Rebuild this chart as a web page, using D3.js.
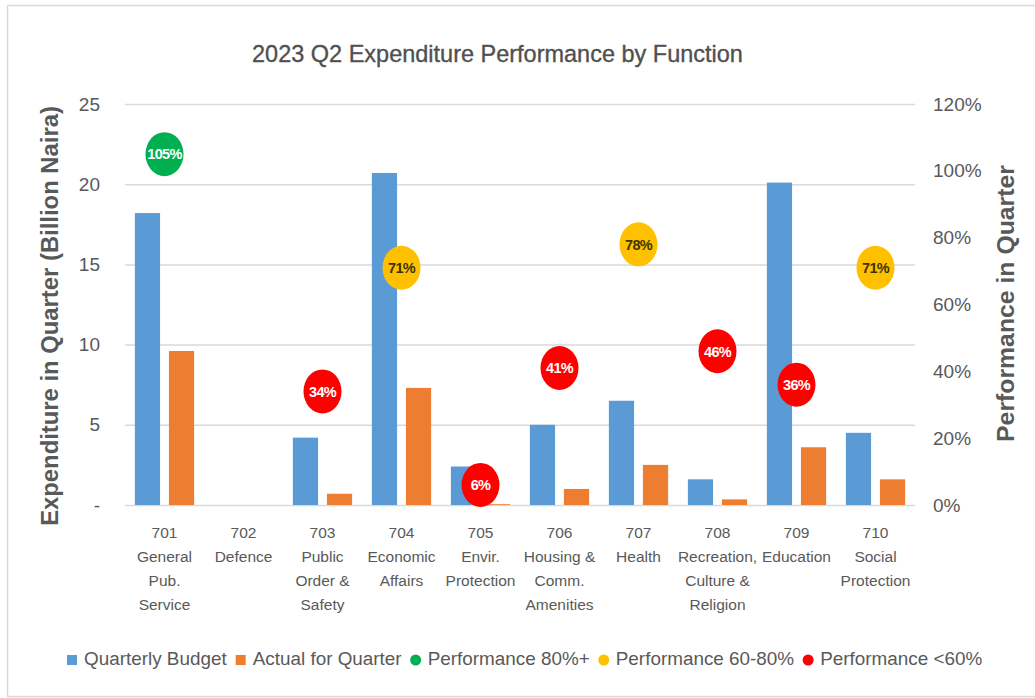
<!DOCTYPE html>
<html><head><meta charset="utf-8">
<script src="https://cdn.jsdelivr.net/npm/d3@7"></script>
<style>body{margin:0;background:#fff;} svg{display:block;font-family:"Liberation Sans",Arial,sans-serif;}</style>
</head><body><svg id="chart" width="1035" height="698"></svg>
<script>
// ---- data ----
const categoryLines = [
  ["701","General","Pub.","Service"],
  ["702","Defence"],
  ["703","Public","Order &","Safety"],
  ["704","Economic","Affairs"],
  ["705","Envir.","Protection"],
  ["706","Housing &","Comm.","Amenities"],
  ["707","Health"],
  ["708","Recreation,","Culture &","Religion"],
  ["709","Education"],
  ["710","Social","Protection"]
];
const categories = categoryLines.map(d => d[0]);
const budget = [18.2, 0, 4.2, 20.7, 2.4, 5.0, 6.5, 1.6, 20.1, 4.5];
const actual = [9.6, 0, 0.7, 7.3, 0.05, 1.0, 2.5, 0.35, 3.6, 1.6];
const performance = [1.05, null, 0.34, 0.71, 0.06, 0.41, 0.78, 0.46, 0.36, 0.71];
const leftTicks = [0, 5, 10, 15, 20, 25];
const rightTicks = [0, 0.2, 0.4, 0.6, 0.8, 1.0, 1.2];
const seriesNames = ["Quarterly Budget", "Actual for Quarter"];
const seriesColors = ["#5B9BD5", "#ED7D31"];
const perfLabels = ["Performance 80%+", "Performance 60-80%", "Performance <60%"];
const perfThresholds = [0.8, 0.6, -Infinity];
const perfColors = ["#00B050", "#FFC000", "#FF0000"];
const perfTextColors = ["#ffffff", "#3d3500", "#ffffff"];
const titleText = "2023 Q2 Expenditure Performance by Function";
const leftTitle = "Expenditure in Quarter (Billion Naira)";
const rightTitle = "Performance in Quarter";

// ---- layout ----
const svg = d3.select("#chart");
const L = 125, R = 915, T = 104, B = 505;
const textGray = "#595959";

function fit(sel, target) {
  const fs = parseFloat(sel.attr("font-size"));
  const w = sel.node().getComputedTextLength();
  sel.attr("font-size", fs * target / w);
  return sel;
}

svg.append("rect").attr("x", 7.5).attr("y", 5.5).attr("width", 1040).attr("height", 691)
  .attr("fill", "#fff").attr("stroke", "#d9d9d9").attr("stroke-width", 1.5);

const x0 = d3.scaleBand().domain(categories).range([L, R]).paddingInner(0.25).paddingOuter(0.125);
const x1 = d3.scaleBand().domain([0, 1]).range([0, x0.bandwidth()]).paddingInner(0.26);
const yL = d3.scaleLinear().domain([0, 25]).range([B, T]);
const yR = d3.scaleLinear().domain([0, 1.2]).range([B, T]);

// gridlines
svg.append("g").selectAll("line").data(leftTicks).join("line")
  .attr("x1", L).attr("x2", R)
  .attr("y1", d => yL(d) + 0.5).attr("y2", d => yL(d) + 0.5)
  .attr("stroke", "#d9d9d9").attr("stroke-width", 1.5);

// bars
const barData = [];
categories.forEach((c, i) => {
  barData.push({c, s: 0, v: budget[i]});
  barData.push({c, s: 1, v: actual[i]});
});
svg.append("g").selectAll("rect").data(barData).join("rect")
  .attr("x", d => x0(d.c) + x1(d.s))
  .attr("width", x1.bandwidth())
  .attr("y", d => yL(d.v))
  .attr("height", d => yL(0) - yL(d.v))
  .attr("fill", d => seriesColors[d.s]);

// performance markers
function perfIdx(p) { return perfThresholds.findIndex(t => p >= t); }
const perfData = categories.map((c, i) => ({c, p: performance[i]})).filter(d => d.p != null);
const pg = svg.append("g").selectAll("g").data(perfData).join("g")
  .attr("transform", d => `translate(${x0(d.c) + x0.bandwidth() / 2},${yR(d.p)})`);
pg.append("ellipse").attr("rx", 19).attr("ry", 22)
  .attr("fill", d => perfColors[perfIdx(d.p)]);
pg.append("text").attr("text-anchor", "middle").attr("dy", "0.36em")
  .attr("font-size", 14.5).attr("font-weight", "bold").attr("letter-spacing", -0.7)
  .attr("fill", d => perfTextColors[perfIdx(d.p)])
  .text(d => d3.format(".0%")(d.p));

// left axis
const gl = svg.append("g").attr("transform", `translate(${L},0)`)
  .call(d3.axisLeft(yL).tickValues(leftTicks).tickFormat(d => d === 0 ? "-" : d).tickSize(0).tickPadding(25));
gl.select(".domain").remove();
gl.selectAll("text").attr("font-size", 19).attr("fill", textGray).attr("font-family", "Liberation Sans, Arial, sans-serif");

// right axis
const gr = svg.append("g").attr("transform", `translate(${R},0)`)
  .call(d3.axisRight(yR).tickValues(rightTicks).tickFormat(d3.format(".0%")).tickSize(0).tickPadding(18));
gr.select(".domain").remove();
gr.selectAll("text").attr("font-size", 19).attr("fill", textGray).attr("font-family", "Liberation Sans, Arial, sans-serif");

// bottom axis (multi-line category labels)
const gb = svg.append("g").attr("transform", `translate(0,${B})`)
  .call(d3.axisBottom(x0).tickSize(0).tickFormat(() => ""));
gb.select(".domain").remove();
gb.selectAll(".tick text").each(function(d, i) {
  const t = d3.select(this).attr("y", 33).attr("dy", null)
    .attr("font-size", 15.5).attr("fill", textGray).attr("font-family", "Liberation Sans, Arial, sans-serif");
  categoryLines[i].forEach((line, k) => {
    t.append("tspan").attr("x", 0).attr("dy", k === 0 ? 0 : 24).text(line);
  });
});

// title
fit(svg.append("text").attr("x", 497.5).attr("y", 62).attr("text-anchor", "middle")
  .attr("font-size", 23).attr("fill", "#505050").attr("stroke", "#505050").attr("stroke-width", 0.35)
  .text(titleText), 491);

// axis titles
fit(svg.append("text").attr("transform", "translate(58,316) rotate(-90)").attr("text-anchor", "middle")
  .attr("font-size", 24).attr("font-weight", "bold").attr("fill", textGray).text(leftTitle), 420);
fit(svg.append("text").attr("transform", "translate(1014,303.5) rotate(-90)").attr("text-anchor", "middle")
  .attr("font-size", 24).attr("font-weight", "bold").attr("fill", textGray).text(rightTitle), 277);

// legend
const legendItems = [
  ...seriesNames.map((n, i) => ({label: n, color: seriesColors[i], shape: "square"})),
  ...perfLabels.map((n, i) => ({label: n, color: perfColors[i], shape: "circle"}))
];
const lg = svg.append("g").attr("font-size", 19).attr("fill", textGray);
const texts = legendItems.map(it => lg.append("text").attr("y", 665).text(it.label));
const markerW = 10, gapAfter = 7, gapBetween = 9;
let widths = texts.map(t => t.node().getComputedTextLength());
const targetTotal = 983 - 67;
const fixed = legendItems.length * (markerW + gapAfter) + (legendItems.length - 1) * gapBetween;
const sc = (targetTotal - fixed) / d3.sum(widths);
lg.attr("font-size", 19 * sc);
widths = texts.map(t => t.node().getComputedTextLength());
let cx = 67;
legendItems.forEach((it, i) => {
  if (it.shape === "square") {
    lg.append("rect").attr("x", cx).attr("y", 655).attr("width", markerW).attr("height", 10).attr("fill", it.color);
  } else {
    lg.append("circle").attr("cx", cx + markerW / 2).attr("cy", 660).attr("r", 5.5).attr("fill", it.color);
  }
  cx += markerW + gapAfter;
  texts[i].attr("x", cx);
  cx += widths[i] + gapBetween;
});
</script>
</body></html>
